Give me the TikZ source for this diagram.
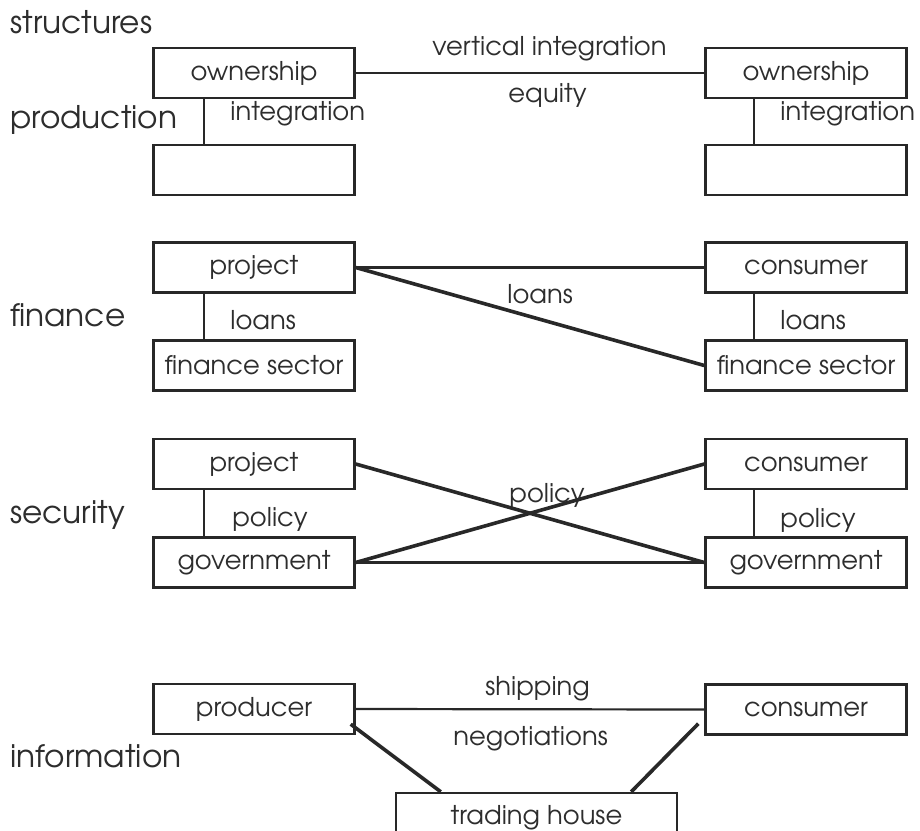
\documentclass[tikz,border=0pt]{standalone}
\usepackage{fontspec}
\setmainfont{TeX Gyre Adventor}
\usetikzlibrary{calc}
\definecolor{ink}{RGB}{40,40,40}
\definecolor{txt}{RGB}{45,45,45}
\begin{document}
\begin{tikzpicture}[x=0.5pt,y=-0.5pt,
  box/.style={draw=ink, line width=1.2pt, minimum width=100.5pt, minimum height=25pt, inner sep=0pt, text=txt, font=\fontsize{12.9}{14}\selectfont},
  lab/.style={inner sep=0pt, anchor=base west, text=txt, font=\fontsize{12.9}{14}\selectfont},
  side/.style={lab, font=\fontsize{15.6}{17}\selectfont},
  link/.style={draw=ink, line width=1.1pt},
  heavy/.style={draw=ink, line width=1.8pt}]
\useasboundingbox (0,0) rectangle (920,830);
\clip (0,0) rectangle (920,830);
\fill[white] (0,0) rectangle (920,830);

% production
\node[box] (po1) at (254,73) {ownership};
\node[box] (pb1) at (254,170) {};
\node[box] (po2) at (806,73) {ownership};
\node[box] (pb2) at (806,170) {};
% finance
\node[box] (fp1) at (254,267.5) {project};
\node[box] (fs1) at (254,365.5) {finance sector};
\node[box] (fc2) at (806,267.5) {consumer};
\node[box] (fs2) at (806,365.5) {finance sector};
% security
\node[box] (sp1) at (254,464) {project};
\node[box] (sg1) at (254,562.5) {government};
\node[box] (sc2) at (806,464) {consumer};
\node[box] (sg2) at (806,562.5) {government};
% information
\node[box] (ip1) at (254,709) {producer};
\node[box] (ic2) at (806,709.5) {consumer};
\node[box, minimum width=140.5pt] (it) at (536.5,818) {trading house};

% labels
\node[side] (l1) at (10,33) {structures};
\node[side] (l2) at (10,128) {production};
\node[lab] (l3) at (230,120) {integration};
\node[lab] (l4) at (432,55) {vertical integration};
\node[lab] (l5) at (508,102) {equity};
\node[lab] (l6) at (780,120) {integration};
\node[side] (l7) at (10,326) {finance};
\node[lab] (l8) at (230,329) {loans};
\node[lab] (l9) at (507,303) {loans};
\node[lab] (l10) at (780,329) {loans};
\node[side] (l11) at (10,523) {security};
\node[lab] (l12) at (232,526) {policy};
\node[lab] (l13) at (509,502) {policy};
\node[lab] (l14) at (780,527) {policy};
\node[lab] (l15) at (485,695) {shipping};
\node[lab] (l16) at (453,745) {negotiations};
\node[side] (l17) at (10,767) {information};

% production connectors
\draw[link] (po1.east) -- (po2.west);
\draw[link] ($(po1.south west)+(52,0)$) -- ($(pb1.north west)+(52,0)$);
\draw[link] ($(po2.south west)+(50,0)$) -- ($(pb2.north west)+(50,0)$);
% finance connectors
\draw[link] (fp1.east) -- (fc2.west);
\draw[heavy] (fp1.east) -- (fs2.west);
\draw[link] ($(fp1.south west)+(52,0)$) -- ($(fs1.north west)+(52,0)$);
\draw[link] ($(fc2.south west)+(50,0)$) -- ($(fs2.north west)+(50,0)$);
% security connectors
\draw[heavy] (sp1.east) -- (sg2.west);
\draw[heavy] (sg1.east) -- (sc2.west);
\draw[link, line width=1.3pt] (sg1.east) -- (sg2.west);
\draw[link] ($(sp1.south west)+(52,0)$) -- ($(sg1.north west)+(52,0)$);
\draw[link] ($(sc2.south west)+(50,0)$) -- ($(sg2.north west)+(50,0)$);
% information connectors
\draw[link] (ip1.east) -- (ic2.west);
\coordinate (a1) at ($(ip1.south east)+(-5,-11)$);
\coordinate (a2) at ($(ic2.south west)+(-6,-12)$);
\draw[heavy] (a1) -- ($(it.north west)+(46,0)$);
\draw[heavy] (a2) -- ($(it.north east)+(-47,0)$);
\end{tikzpicture}
\end{document}
